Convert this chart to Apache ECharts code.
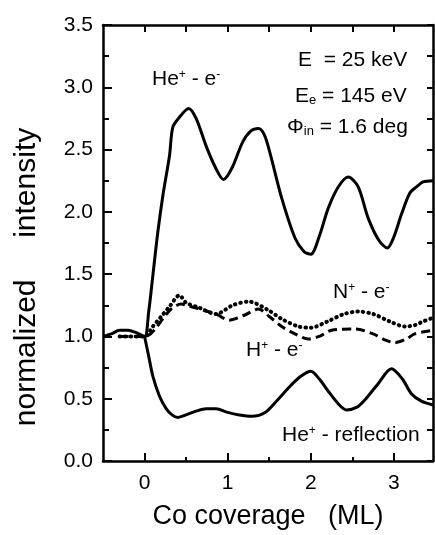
<!DOCTYPE html>
<html>
<head>
<meta charset="utf-8">
<script src="https://cdn.jsdelivr.net/npm/echarts@6/dist/echarts.min.js"></script>
<style>
  html, body { margin: 0; padding: 0; background: #fff; }
  #chart { width: 435px; height: 535px; }
</style>
</head>
<body>
<div id="chart"></div>
<script>
// He+ - e- (upper solid)
const heEX = [-0.5, -0.4, -0.3, -0.2, -0.1, 0, 0.05, 0.1, 0.16, 0.22, 0.3, 0.34, 0.42, 0.53, 0.62, 0.74, 0.85, 0.95, 1.05, 1.18, 1.28, 1.37, 1.44, 1.51, 1.65, 1.81, 1.92, 2.0, 2.1, 2.21, 2.33, 2.45, 2.57, 2.69, 2.82, 2.92, 3.0, 3.09, 3.19, 3.27, 3.35, 3.47]
const heEY = [1.0, 1.02, 1.05, 1.05, 1.03, 1.0, 1.2, 1.49, 1.84, 2.13, 2.45, 2.68, 2.76, 2.83, 2.75, 2.53, 2.36, 2.26, 2.35, 2.56, 2.65, 2.67, 2.62, 2.47, 2.11, 1.79, 1.68, 1.66, 1.8, 2.03, 2.2, 2.28, 2.2, 1.95, 1.77, 1.71, 1.8, 1.98, 2.15, 2.2, 2.24, 2.25]

// He+ - reflection (lower solid)
const heRX = [0, 0.05, 0.1, 0.18, 0.26, 0.33, 0.4, 0.5, 0.62, 0.74, 0.86, 1.0, 1.14, 1.29, 1.45, 1.6, 1.75, 1.88, 2.0, 2.1, 2.21, 2.33, 2.43, 2.55, 2.65, 2.81, 2.97, 3.1, 3.21, 3.33, 3.47]
const heRY = [1.0, 0.84, 0.68, 0.52, 0.42, 0.37, 0.35, 0.37, 0.4, 0.42, 0.42, 0.39, 0.37, 0.36, 0.39, 0.49, 0.6, 0.68, 0.72, 0.66, 0.56, 0.46, 0.41, 0.43, 0.49, 0.62, 0.74, 0.66, 0.54, 0.48, 0.45]

// N+ - e- (dotted)
const nEX = [-0.3, -0.1, 0, 0.1, 0.2, 0.3, 0.42, 0.5, 0.66, 0.86, 1.06, 1.25, 1.49, 1.65, 1.85, 2.0, 2.2, 2.4, 2.57, 2.75, 2.95, 3.13, 3.25, 3.35, 3.47]
const nEY = [1.0, 1.0, 1.0, 1.08, 1.16, 1.24, 1.33, 1.27, 1.23, 1.18, 1.25, 1.28, 1.21, 1.14, 1.08, 1.07, 1.12, 1.18, 1.2, 1.18, 1.12, 1.08, 1.09, 1.12, 1.15]

// H+ - e- (dashed)
const hEX = [-0.3, -0.1, 0, 0.07, 0.14, 0.23, 0.32, 0.44, 0.55, 0.66, 0.86, 1.02, 1.2, 1.37, 1.5, 1.65, 1.81, 1.97, 2.1, 2.25, 2.53, 2.75, 2.9, 3.01, 3.15, 3.25, 3.47]
const hEY = [1.0, 1.0, 1.0, 1.02, 1.07, 1.15, 1.22, 1.26, 1.24, 1.22, 1.18, 1.13, 1.17, 1.22, 1.16, 1.08, 1.02, 0.98, 1.0, 1.05, 1.06, 1.02, 0.97, 0.95, 0.98, 1.02, 1.05]

const xTickLabels = [0, 1, 2, 3]
const xMinorTicks = [0.5, 1.5, 2.5]
const xTopTicks = [0, 0.5, 1, 1.5, 2, 2.5, 3]

const font = 'Liberation Sans, Arial, sans-serif'
const pairs = (xs, ys) => xs.map((x, i) => [x, ys[i]])

let myChart = echarts.init(document.getElementById('chart'))

const richStyle = {
  sup: { fontSize: 12, verticalAlign: 'top', lineHeight: 12, fontFamily: font },
  sub: { fontSize: 13, verticalAlign: 'bottom', lineHeight: 12, padding: [20, 0, 0, 0], fontFamily: font }
}

function label(x, y, text, size) {
  return {
    type: 'text',
    left: x,
    top: y,
    style: {
      text: text,
      fontSize: size || 21,
      fontFamily: font,
      fill: '#000',
      rich: richStyle
    }
  }
}

const tickStyle = { color: '#000', width: 2 }

let option = {
  backgroundColor: '#fff',
  animation: false,
  grid: {
    left: 103,
    top: 25,
    right: 2,
    bottom: 70
  },
  xAxis: [{
    type: 'value',
    min: -0.5,
    max: 3.47,
    position: 'bottom',
    name: 'Co coverage   (ML)',
    nameLocation: 'middle',
    nameGap: 42,
    nameTextStyle: { fontSize: 27, fontFamily: font, color: '#000' },
    axisLine: { show: true, onZero: false, lineStyle: { color: '#000', width: 2.5 } },
    axisTick: { show: true, inside: true, length: 8, customValues: xTickLabels, lineStyle: tickStyle },
    axisLabel: { customValues: xTickLabels, fontSize: 21, fontFamily: font, color: '#000', margin: 12 },
    splitLine: { show: false }
  }, {
    type: 'value',
    min: -0.5,
    max: 3.47,
    position: 'bottom',
    axisLine: { show: false, onZero: false },
    axisTick: { show: true, inside: true, length: 4, customValues: xMinorTicks, lineStyle: tickStyle },
    axisLabel: { show: false },
    splitLine: { show: false }
  }, {
    type: 'value',
    min: -0.5,
    max: 3.47,
    position: 'top',
    axisLine: { show: true, onZero: false, lineStyle: { color: '#000', width: 2.5 } },
    axisTick: { show: true, inside: true, length: 7, customValues: xTopTicks, lineStyle: tickStyle },
    axisLabel: { show: false },
    splitLine: { show: false }
  }],
  yAxis: [{
    type: 'value',
    min: 0,
    max: 3.5,
    interval: 0.5,
    position: 'left',
    axisLine: { show: true, onZero: false, lineStyle: { color: '#000', width: 2.5 } },
    axisTick: { show: true, inside: true, length: 9, lineStyle: tickStyle },
    minorTick: { show: true, splitNumber: 2, length: 6, lineStyle: tickStyle },
    axisLabel: {
      fontSize: 21, fontFamily: font, color: '#000', margin: 10,
      formatter: v => v.toFixed(1)
    },
    splitLine: { show: false },
    minorSplitLine: { show: false }
  }, {
    type: 'value',
    min: 0,
    max: 3.5,
    interval: 0.25,
    position: 'right',
    axisLine: { show: true, onZero: false, lineStyle: { color: '#000', width: 2.5 } },
    axisTick: { show: true, inside: true, length: 6, lineStyle: tickStyle },
    axisLabel: { show: false },
    splitLine: { show: false }
  }],
  graphic: [
    {
      type: 'text',
      x: 27,
      y: 277,
      rotation: Math.PI / 2,
      style: {
        text: 'normalized     intensity',
        fontSize: 30,
        fontFamily: font,
        fill: '#000',
        align: 'center',
        verticalAlign: 'middle'
      }
    },
    label(152, 69, 'He{sup|+} - e{sup|-}'),
    label(298, 50, 'E  = 25 keV'),
    label(295, 74, 'E{sub|e} = 145 eV'),
    label(287, 105, 'Φ{sub|in} = 1.6 deg'),
    label(333, 282, 'N{sup|+} - e{sup|-}'),
    label(246, 340, 'H{sup|+} - e{sup|-}'),
    label(282, 425, 'He{sup|+} - reflection')
  ],
  series: [
    {
      name: 'He+ - e-',
      type: 'line',
      xAxisIndex: 0, yAxisIndex: 0,
      smooth: 0.3,
      symbol: 'none',
      lineStyle: { color: '#000', width: 3 },
      data: pairs(heEX, heEY)
    },
    {
      name: 'He+ - reflection',
      type: 'line',
      xAxisIndex: 0, yAxisIndex: 0,
      smooth: 0.3,
      symbol: 'none',
      lineStyle: { color: '#000', width: 3 },
      data: pairs(heRX, heRY)
    },
    {
      name: 'N+ - e-',
      type: 'line',
      xAxisIndex: 0, yAxisIndex: 0,
      smooth: 0.3,
      symbol: 'none',
      lineStyle: { color: '#000', width: 4, type: [0.5, 5], cap: 'round' },
      data: pairs(nEX, nEY)
    },
    {
      name: 'H+ - e-',
      type: 'line',
      xAxisIndex: 0, yAxisIndex: 0,
      smooth: 0.3,
      symbol: 'none',
      lineStyle: { color: '#000', width: 3, type: [9, 5] },
      data: pairs(hEX, hEY)
    }
  ]
}
myChart.setOption(option)
</script>
</body>
</html>
